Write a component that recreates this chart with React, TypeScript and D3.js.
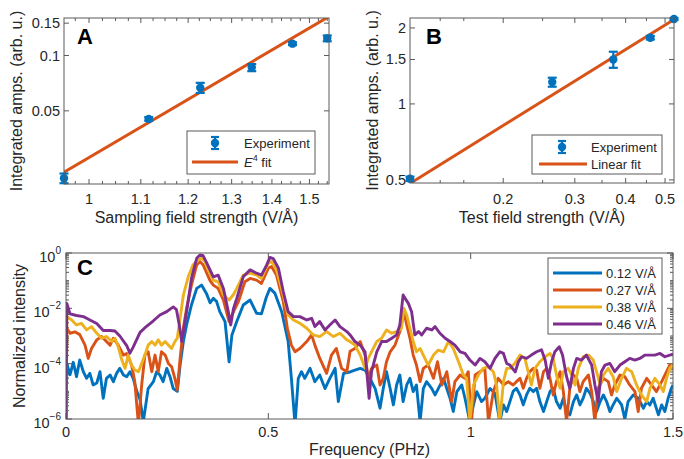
import React from "react";
import * as d3 from "d3";

// ---------- Panel A data ----------
const aField = [0.955, 1.116, 1.227, 1.349, 1.454, 1.55];
const aAmp = [0.0215, 0.0452, 0.0668, 0.086, 0.116, 0.124];
const aErr = [0.0013, 0.001, 0.0042, 0.0038, 0.002, 0.0045];
const aFitX = [0.955, 1.555];
const aFitY = [0.0232, 0.163];
const aXTicks = [1, 1.1, 1.2, 1.3, 1.4, 1.5];
const aYTicks = [0.05, 0.1, 0.15];

// ---------- Panel B data ----------
const bField = [0.118, 0.264, 0.373, 0.46, 0.526];
const bAmp = [0.505, 1.22, 1.5, 1.83, 2.17];
const bErr = [0.01, 0.05, 0.11, 0.03, 0.02];
const bFitX = [0.118, 0.526];
const bFitY = [0.484, 2.16];
const bXTicks = [0.2, 0.3, 0.4, 0.5];
const bXMinor = [0.14, 0.16, 0.25, 0.35, 0.45];
const bYTicks = [0.5, 1, 1.5, 2];

// ---------- Panel C data: [frequency (PHz), log10 normalized intensity] ----------
const seriesLabels = ["0.12 V/Å", "0.27 V/Å", "0.38 V/Å", "0.46 V/Å"];
const seriesColors = ["#0072BD", "#D95319", "#EDB120", "#7E2F8E"];

const specBlue: [number, number][] = [
  [0, -6.5], [0.002, -4.0], [0.01, -4.4], [0.018, -3.95], [0.026, -4.47], [0.034, -3.87], [0.043, -4.3],
  [0.051, -4.53], [0.059, -4.35], [0.067, -4.77], [0.076, -4.7], [0.084, -4.29], [0.092, -5.25], [0.1, -4.53],
  [0.109, -4.41], [0.117, -4.65], [0.125, -4.35], [0.133, -4.17], [0.142, -4.41], [0.15, -4.47], [0.158, -4.29],
  [0.166, -4.53], [0.175, -5.0], [0.183, -5.3], [0.191, -6.1], [0.198, -5.4], [0.203, -4.9], [0.216, -4.65],
  [0.224, -4.29], [0.232, -4.41], [0.24, -4.65], [0.249, -4.17], [0.257, -4.47], [0.265, -4.9], [0.275, -5.0],
  [0.282, -4.05], [0.29, -3.2], [0.298, -2.6], [0.31, -1.88], [0.323, -1.28], [0.335, -1.16], [0.347, -1.46],
  [0.356, -1.8], [0.364, -1.64], [0.372, -1.75], [0.38, -2.12], [0.393, -2.48], [0.403, -3.93], [0.41, -2.96],
  [0.422, -2.48], [0.438, -1.88], [0.455, -1.7], [0.471, -2.18], [0.483, -2.2], [0.495, -1.6], [0.504, -1.28],
  [0.516, -1.45], [0.533, -2.12], [0.549, -3.2], [0.557, -4.53], [0.566, -6.2], [0.574, -4.53], [0.582, -4.29],
  [0.59, -4.53], [0.603, -4.17], [0.615, -4.65], [0.627, -4.41], [0.64, -4.9], [0.652, -4.53], [0.665, -4.17],
  [0.673, -5.37], [0.686, -4.35], [0.702, -4.3], [0.714, -4.23], [0.727, -4.17], [0.739, -4.23], [0.751, -4.53],
  [0.764, -4.9], [0.776, -5.61], [0.784, -4.9], [0.792, -4.29], [0.801, -4.9], [0.809, -5.49], [0.817, -4.77],
  [0.825, -4.41], [0.833, -5.37], [0.842, -4.77], [0.85, -4.53], [0.858, -5.01], [0.866, -4.77], [0.875, -6.1],
  [0.883, -4.9], [0.891, -4.65], [0.904, -4.9], [0.912, -5.13], [0.92, -4.9], [0.933, -4.53], [0.941, -4.9],
  [0.949, -5.25], [0.957, -5.73], [0.966, -5.01], [0.978, -4.77], [0.986, -5.25], [0.998, -6.1], [1.007, -5.49],
  [1.015, -5.01], [1.027, -5.37], [1.035, -5.25], [1.048, -4.9], [1.06, -5.07], [1.072, -6.1], [1.081, -5.49],
  [1.089, -5.73], [1.097, -5.37], [1.105, -5.0], [1.113, -4.89], [1.122, -5.13], [1.13, -5.49], [1.138, -5.13],
  [1.146, -4.89], [1.155, -5.01], [1.163, -4.89], [1.171, -5.37], [1.18, -5.73], [1.188, -5.37], [1.196, -5.01],
  [1.204, -4.89], [1.212, -5.37], [1.221, -5.61], [1.229, -5.25], [1.237, -5.73], [1.245, -5.85], [1.254, -5.37],
  [1.262, -5.13], [1.27, -5.49], [1.278, -5.25], [1.286, -4.89], [1.295, -5.07], [1.303, -5.37], [1.311, -5.73],
  [1.32, -5.37], [1.328, -5.13], [1.336, -5.37], [1.344, -5.73], [1.352, -5.49], [1.361, -5.25], [1.373, -5.49],
  [1.381, -6.0], [1.389, -5.37], [1.402, -5.13], [1.414, -5.25], [1.427, -5.61], [1.435, -5.37], [1.443, -5.49],
  [1.451, -5.25], [1.464, -5.85], [1.472, -5.49], [1.48, -5.73], [1.488, -5.25], [1.496, -4.89], [1.5, -4.77],
];

const specOrange: [number, number][] = [
  [0, -6.5], [0.002, -2.72], [0.01, -2.9], [0.022, -2.85], [0.034, -2.95], [0.047, -3.33], [0.055, -3.81],
  [0.063, -3.45], [0.076, -3.14], [0.088, -3.02], [0.1, -3.2], [0.109, -3.33], [0.117, -3.08], [0.129, -3.33],
  [0.142, -3.69], [0.15, -3.63], [0.162, -4.05], [0.17, -4.65], [0.179, -6.2], [0.187, -4.77], [0.195, -3.69],
  [0.203, -3.57], [0.212, -4.29], [0.22, -3.69], [0.228, -4.29], [0.236, -3.57], [0.245, -3.69], [0.253, -3.99],
  [0.261, -4.11], [0.269, -4.53], [0.275, -4.95], [0.282, -3.81], [0.29, -2.72], [0.298, -2.0], [0.31, -1.16],
  [0.323, -0.43], [0.331, -0.31], [0.339, -0.43], [0.347, -0.7], [0.356, -1.0], [0.364, -1.16], [0.376, -1.28],
  [0.389, -1.7], [0.403, -2.48], [0.414, -2.12], [0.426, -1.76], [0.442, -1.04], [0.455, -0.92], [0.471, -0.98],
  [0.483, -1.1], [0.5, -0.55], [0.508, -0.49], [0.52, -0.8], [0.537, -1.76], [0.547, -2.72], [0.557, -3.33],
  [0.566, -3.57], [0.578, -3.45], [0.595, -3.2], [0.607, -2.96], [0.615, -3.33], [0.627, -3.8], [0.644, -4.35],
  [0.656, -3.69], [0.668, -3.45], [0.681, -4.17], [0.694, -4.29], [0.702, -3.55], [0.714, -3.45], [0.727, -3.2],
  [0.739, -3.69], [0.747, -4.53], [0.755, -4.17], [0.768, -4.05], [0.776, -4.77], [0.784, -4.53], [0.792, -3.93],
  [0.801, -3.57], [0.813, -3.33], [0.825, -2.84], [0.835, -2.12], [0.842, -2.6], [0.85, -3.08], [0.858, -3.69],
  [0.866, -4.05], [0.875, -4.65], [0.883, -4.17], [0.895, -4.05], [0.908, -4.53], [0.918, -3.93], [0.929, -4.77],
  [0.941, -4.29], [0.953, -5.37], [0.961, -4.65], [0.974, -4.41], [0.986, -4.53], [0.994, -4.29], [1.002, -6.1],
  [1.011, -4.41], [1.023, -4.29], [1.035, -4.17], [1.044, -6.1], [1.056, -5.01], [1.068, -4.53], [1.081, -4.77],
  [1.093, -4.65], [1.105, -4.77], [1.113, -4.65], [1.122, -4.53], [1.13, -4.89], [1.138, -4.53], [1.146, -4.29],
  [1.155, -4.17], [1.163, -4.23], [1.171, -4.89], [1.18, -4.29], [1.188, -4.17], [1.196, -4.53], [1.204, -5.13],
  [1.212, -4.65], [1.221, -4.29], [1.229, -5.01], [1.237, -6.1], [1.245, -4.89], [1.254, -4.41], [1.262, -4.53],
  [1.27, -5.01], [1.278, -4.65], [1.291, -4.41], [1.299, -5.01], [1.307, -6.1], [1.315, -4.89], [1.328, -4.53],
  [1.34, -4.65], [1.348, -5.13], [1.356, -4.77], [1.369, -4.41], [1.381, -4.47], [1.393, -4.77], [1.406, -5.01],
  [1.414, -5.73], [1.422, -4.89], [1.435, -4.53], [1.447, -4.77], [1.459, -5.01], [1.472, -4.65], [1.484, -4.29],
  [1.492, -4.05], [1.5, -4.17],
];

const specYellow: [number, number][] = [
  [0, -6.5], [0.002, -2.3], [0.014, -2.42], [0.026, -2.6], [0.038, -2.54], [0.051, -2.78], [0.063, -2.66],
  [0.076, -2.9], [0.088, -3.08], [0.1, -3.02], [0.113, -3.2], [0.121, -3.08], [0.129, -3.39], [0.138, -3.87],
  [0.146, -4.17], [0.154, -3.69], [0.162, -4.05], [0.17, -4.23], [0.179, -4.29], [0.187, -3.99], [0.195, -3.69],
  [0.203, -3.33], [0.212, -3.2], [0.22, -3.33], [0.228, -3.14], [0.236, -3.33], [0.245, -3.2], [0.253, -3.33],
  [0.261, -3.45], [0.269, -3.2], [0.275, -3.08], [0.282, -2.36], [0.29, -1.52], [0.302, -0.86], [0.314, -0.43],
  [0.327, -0.25], [0.335, -0.19], [0.343, -0.3], [0.351, -0.61], [0.364, -0.98], [0.376, -1.04], [0.389, -1.52],
  [0.403, -1.7], [0.414, -1.5], [0.422, -1.28], [0.438, -0.8], [0.455, -0.73], [0.471, -0.8], [0.483, -0.92],
  [0.5, -0.37], [0.508, -0.31], [0.52, -0.61], [0.537, -1.52], [0.549, -2.24], [0.562, -2.42], [0.578, -2.54],
  [0.595, -2.72], [0.611, -2.96], [0.627, -3.02], [0.644, -2.84], [0.661, -3.02], [0.677, -2.9], [0.694, -3.14],
  [0.702, -3.2], [0.714, -3.33], [0.727, -3.69], [0.739, -4.17], [0.747, -3.81], [0.755, -3.57], [0.768, -3.2],
  [0.78, -3.08], [0.792, -2.78], [0.805, -2.9], [0.817, -2.84], [0.829, -2.72], [0.835, -2.0], [0.842, -2.24],
  [0.85, -2.72], [0.858, -3.2], [0.866, -3.57], [0.875, -3.45], [0.883, -3.69], [0.895, -4.05], [0.908, -3.69],
  [0.92, -3.51], [0.933, -3.57], [0.945, -3.2], [0.957, -3.45], [0.97, -3.93], [0.982, -4.41], [0.99, -4.53],
  [0.998, -6.1], [1.007, -4.77], [1.019, -4.41], [1.031, -4.17], [1.044, -4.11], [1.056, -4.29], [1.064, -4.77],
  [1.072, -6.1], [1.081, -4.65], [1.089, -4.17], [1.097, -4.17], [1.109, -3.99], [1.122, -3.69], [1.134, -3.81],
  [1.142, -4.29], [1.15, -4.77], [1.159, -4.17], [1.171, -3.93], [1.184, -3.75], [1.196, -3.63], [1.204, -3.81],
  [1.212, -4.41], [1.221, -4.89], [1.229, -4.29], [1.241, -4.17], [1.25, -4.41], [1.258, -4.77], [1.266, -4.17],
  [1.278, -3.75], [1.291, -3.69], [1.303, -3.87], [1.311, -4.29], [1.32, -4.77], [1.328, -4.41], [1.34, -4.17],
  [1.352, -4.47], [1.361, -5.01], [1.373, -4.53], [1.385, -4.17], [1.398, -4.29], [1.41, -4.77], [1.422, -5.13],
  [1.435, -5.37], [1.443, -4.89], [1.455, -4.53], [1.468, -4.77], [1.476, -5.01], [1.484, -4.53], [1.492, -4.17],
  [1.5, -4.05],
];

const specPurple: [number, number][] = [
  [0, -6.5], [0.002, -1.82], [0.01, -2.2], [0.026, -2.26], [0.043, -2.3], [0.051, -2.36], [0.059, -2.42],
  [0.076, -2.55], [0.092, -2.8], [0.109, -2.8], [0.121, -2.82], [0.133, -3.0], [0.15, -3.35], [0.158, -3.62],
  [0.166, -3.4], [0.183, -2.87], [0.199, -2.65], [0.216, -2.45], [0.232, -2.24], [0.249, -2.12], [0.265, -1.95],
  [0.273, -2.05], [0.28, -2.6], [0.286, -3.2], [0.298, -2.12], [0.31, -0.92], [0.323, -0.19], [0.331, -0.07],
  [0.339, -0.1], [0.348, -0.37], [0.364, -0.86], [0.376, -0.8], [0.389, -1.28], [0.401, -2.12], [0.407, -2.6],
  [0.414, -2.0], [0.422, -1.64], [0.438, -0.86], [0.455, -0.61], [0.471, -0.73], [0.483, -0.8], [0.496, -0.43],
  [0.504, -0.16], [0.512, -0.2], [0.525, -0.55], [0.537, -1.4], [0.549, -2.12], [0.562, -2.3], [0.578, -2.3],
  [0.595, -2.42], [0.607, -2.36], [0.615, -2.66], [0.627, -2.48], [0.64, -2.78], [0.652, -2.6], [0.665, -2.42],
  [0.677, -2.66], [0.694, -2.84], [0.702, -2.96], [0.714, -3.2], [0.727, -3.33], [0.739, -3.57], [0.749, -5.25],
  [0.755, -4.29], [0.768, -3.57], [0.78, -3.2], [0.792, -3.2], [0.805, -3.08], [0.817, -2.96], [0.825, -2.6],
  [0.833, -1.52], [0.838, -1.64], [0.846, -1.82], [0.854, -2.12], [0.862, -2.96], [0.871, -2.84], [0.879, -2.96],
  [0.891, -2.72], [0.904, -2.78], [0.912, -2.66], [0.924, -2.9], [0.937, -3.08], [0.949, -3.2], [0.961, -3.33],
  [0.974, -3.57], [0.986, -3.63], [0.998, -3.87], [1.011, -4.05], [1.023, -3.81], [1.035, -3.93], [1.048, -4.17],
  [1.06, -3.81], [1.072, -3.57], [1.081, -3.63], [1.089, -3.99], [1.097, -4.05], [1.11, -4.3], [1.118, -3.93],
  [1.126, -3.75], [1.138, -3.81], [1.15, -3.69], [1.163, -3.57], [1.175, -3.5], [1.184, -3.87], [1.192, -4.53],
  [1.2, -3.93], [1.208, -3.57], [1.219, -3.39], [1.227, -3.69], [1.237, -4.47], [1.245, -4.89], [1.254, -4.17],
  [1.262, -3.81], [1.274, -3.87], [1.286, -3.69], [1.299, -4.05], [1.307, -4.77], [1.315, -5.37], [1.323, -4.29],
  [1.332, -4.05], [1.344, -3.99], [1.356, -4.29], [1.369, -4.05], [1.381, -3.93], [1.393, -3.81], [1.406, -3.87],
  [1.418, -3.81], [1.431, -3.69], [1.443, -3.69], [1.455, -3.69], [1.468, -3.63], [1.48, -3.75], [1.492, -3.69],
  [1.5, -3.66],
];

const spectra = [specBlue, specOrange, specYellow, specPurple];
const cXTicks = [0, 0.5, 1, 1.5];
const cYTickExps = [0, -2, -4, -6];

const FONT = "'Liberation Sans', Arial, Helvetica, sans-serif";
const AXC = "#262626";
const FRAME = "#5a5a5a";
const BLUE = "#0072BD";
const ORANGE = "#D95319";

type Box = { l: number; r: number; t: number; b: number };

function Frame({ box }: { box: Box }) {
  return (
    <rect x={box.l} y={box.t} width={box.r - box.l} height={box.b - box.t}
      fill="none" stroke={FRAME} strokeWidth={1} />
  );
}

function XTicks({ box, vals, sx, len }: { box: Box; vals: number[]; sx: (v: number) => number; len: number }) {
  return (
    <g stroke={FRAME} strokeWidth={1}>
      {vals.map((v, i) => {
        const x = sx(v);
        return (
          <g key={i}>
            <line x1={x} x2={x} y1={box.b} y2={box.b - len} />
            <line x1={x} x2={x} y1={box.t} y2={box.t + len} />
          </g>
        );
      })}
    </g>
  );
}

function YTicks({ box, vals, sy, len }: { box: Box; vals: number[]; sy: (v: number) => number; len: number }) {
  return (
    <g stroke={FRAME} strokeWidth={1}>
      {vals.map((v, i) => {
        const y = sy(v);
        return (
          <g key={i}>
            <line x1={box.l} x2={box.l + len} y1={y} y2={y} />
            <line x1={box.r} x2={box.r - len} y1={y} y2={y} />
          </g>
        );
      })}
    </g>
  );
}

function ErrPoint({ x, y, y0, y1, cap = 4.5 }: { x: number; y: number; y0: number; y1: number; cap?: number }) {
  return (
    <g stroke={BLUE} strokeWidth={2.2}>
      <line x1={x} x2={x} y1={y0} y2={y1} />
      <line x1={x - cap} x2={x + cap} y1={y0} y2={y0} />
      <line x1={x - cap} x2={x + cap} y1={y1} y2={y1} />
      <circle cx={x} cy={y} r={4.2} fill={BLUE} stroke="none" />
    </g>
  );
}

function PanelA() {
  const box: Box = { l: 64, r: 329, t: 18, b: 184 };
  const x = d3.scaleLog().domain([0.955, 1.555]).range([box.l, box.r]);
  const y = d3.scaleLog().domain([0.02, 0.16]).range([box.b, box.t]);
  const minor = d3.range(0.975, 1.555, 0.025).filter((v) => aXTicks.every((t) => Math.abs(t - v) > 1e-6));
  const fit = d3.line<number>().x((_, i) => x(aFitX[i])).y((d) => y(d))(aFitY) || "";
  return (
    <g>
      <defs>
        <clipPath id="clipA"><rect x={box.l} y={box.t} width={box.r - box.l} height={box.b - box.t} /></clipPath>
      </defs>
      <XTicks box={box} vals={aXTicks} sx={x} len={5} />
      <XTicks box={box} vals={minor} sx={x} len={3} />
      <YTicks box={box} vals={aYTicks} sy={y} len={5} />
      {aXTicks.map((v) => (
        <text key={v} x={x(v)} y={204} textAnchor="middle" fontSize={14.5} fill={AXC}>{d3.format("~g")(v)}</text>
      ))}
      {aYTicks.map((v) => (
        <text key={v} x={box.l - 4} y={y(v) + 5} textAnchor="end" fontSize={14.5} fill={AXC}>{d3.format("~g")(v)}</text>
      ))}
      <path d={fit} fill="none" stroke={ORANGE} strokeWidth={3} clipPath="url(#clipA)" />
      {aField.map((f, i) => (
        <ErrPoint key={i} x={x(f)} y={y(aAmp[i])} y0={y(aAmp[i] - aErr[i])} y1={y(aAmp[i] + aErr[i])} />
      ))}
      <Frame box={box} />
      <text x={77} y={44} fontSize={22} fontWeight="bold" fill="#000">A</text>
      <text x={(box.l + box.r) / 2} y={223} textAnchor="middle" fontSize={16} fill={AXC}>Sampling field strength (V/Å)</text>
      <text transform={`translate(22,${(box.t + box.b) / 2}) rotate(-90)`} textAnchor="middle" fontSize={16} fill={AXC}>Integrated amps. (arb. u.)</text>
      {/* legend */}
      <rect x={187} y={131} width={128} height={43} fill="#fff" stroke={FRAME} strokeWidth={1} />
      <ErrPoint x={215} y={143} y0={137} y1={149} cap={4} />
      <text x={244} y={148} fontSize={13} fill={AXC}>Experiment</text>
      <line x1={192} x2={238} y1={162} y2={162} stroke={ORANGE} strokeWidth={3} />
      <text x={244} y={167} fontSize={13} fill={AXC}>
        <tspan fontStyle="italic">E</tspan>
        <tspan fontSize={9} dy={-6}>4</tspan>
        <tspan dy={6}> fit</tspan>
      </text>
    </g>
  );
}

function PanelB() {
  const box: Box = { l: 410, r: 674, t: 18, b: 183 };
  const x = d3.scaleLog().domain([0.118, 0.526]).range([box.l, box.r]);
  const y = d3.scaleLog().domain([0.486, 2.19]).range([box.b, box.t]);
  const fit = d3.line<number>().x((_, i) => x(bFitX[i])).y((d) => y(d))(bFitY) || "";
  return (
    <g>
      <defs>
        <clipPath id="clipB"><rect x={box.l} y={box.t} width={box.r - box.l} height={box.b - box.t} /></clipPath>
      </defs>
      <XTicks box={box} vals={bXTicks} sx={x} len={5} />
      <XTicks box={box} vals={bXMinor} sx={x} len={3} />
      <YTicks box={box} vals={bYTicks} sy={y} len={5} />
      {bXTicks.map((v) => (
        <text key={v} x={x(v)} y={204} textAnchor="middle" fontSize={14.5} fill={AXC}>{d3.format("~g")(v)}</text>
      ))}
      {bYTicks.map((v) => (
        <text key={v} x={box.l - 4} y={y(v) + 5} textAnchor="end" fontSize={14.5} fill={AXC}>{d3.format("~g")(v)}</text>
      ))}
      <path d={fit} fill="none" stroke={ORANGE} strokeWidth={3} clipPath="url(#clipB)" />
      {bField.map((f, i) => (
        <ErrPoint key={i} x={x(f)} y={y(bAmp[i])} y0={y(bAmp[i] - bErr[i])} y1={y(bAmp[i] + bErr[i])} />
      ))}
      <Frame box={box} />
      <text x={426} y={44} fontSize={22} fontWeight="bold" fill="#000">B</text>
      <text x={(box.l + box.r) / 2} y={223} textAnchor="middle" fontSize={16} fill={AXC}>Test field strength (V/Å)</text>
      <text transform={`translate(378,${(box.t + box.b) / 2}) rotate(-90)`} textAnchor="middle" fontSize={16} fill={AXC}>Integrated amps. (arb. u.)</text>
      {/* legend */}
      <rect x={532} y={135} width={130} height={39} fill="#fff" stroke={FRAME} strokeWidth={1} />
      <ErrPoint x={562} y={147} y0={141} y1={153} cap={4} />
      <text x={591} y={152} fontSize={13} fill={AXC}>Experiment</text>
      <line x1={539} x2={587} y1={164} y2={164} stroke={ORANGE} strokeWidth={3} />
      <text x={591} y={169} fontSize={13} fill={AXC}>Linear fit</text>
    </g>
  );
}

function PanelC() {
  const box: Box = { l: 66, r: 673, t: 253, b: 419 };
  const x = d3.scaleLinear().domain([0, 1.5]).range([box.l, box.r]);
  const y = d3.scaleLog().domain([1e-6, 1]).range([box.b, box.t]);
  const line = d3.line<[number, number]>()
    .x((d) => x(d[0]))
    .y((d) => y(Math.pow(10, d[1])));
  const minors: number[] = [];
  for (let e = -6; e < 0; e++) {
    for (let k = 2; k <= 9; k++) minors.push(k * Math.pow(10, e));
    if (e % 2 !== 0) minors.push(Math.pow(10, e));
  }
  const legendY = [273, 290, 307, 324];
  return (
    <g>
      <defs>
        <clipPath id="clipC"><rect x={box.l} y={box.t} width={box.r - box.l} height={box.b - box.t} /></clipPath>
      </defs>
      <XTicks box={box} vals={cXTicks} sx={x} len={6} />
      <YTicks box={box} vals={cYTickExps.map((e) => Math.pow(10, e))} sy={y} len={6} />
      <YTicks box={box} vals={minors} sy={y} len={3} />
      {cXTicks.map((v) => (
        <text key={v} x={x(v)} y={437} textAnchor="middle" fontSize={14.5} fill={AXC}>{d3.format("~g")(v)}</text>
      ))}
      {cYTickExps.map((e) => (
        <text key={e} x={box.l - 5} y={y(Math.pow(10, e)) + 9} textAnchor="end" fontSize={14.5} fill={AXC}>
          <tspan>10</tspan>
          <tspan fontSize={10} dy={-8}>{e === 0 ? "0" : `\u2212${-e}`}</tspan>
        </text>
      ))}
      <g clipPath="url(#clipC)">
        {spectra.map((s, i) => (
          <path key={i} d={line(s) || ""} fill="none" stroke={seriesColors[i]} strokeWidth={2.9} strokeLinejoin="round" />
        ))}
      </g>
      <Frame box={box} />
      <text x={77} y={275} fontSize={22} fontWeight="bold" fill="#000">C</text>
      <text x={(box.l + box.r) / 2} y={455} textAnchor="middle" fontSize={16} fill={AXC}>Frequency (PHz)</text>
      <text transform={`translate(25,${(box.t + box.b) / 2}) rotate(-90)`} textAnchor="middle" fontSize={16} fill={AXC}>Normalized intensity</text>
      {/* legend */}
      <rect x={548} y={258} width={114} height={76} fill="#fff" stroke={FRAME} strokeWidth={1} />
      {seriesLabels.map((lab, i) => (
        <g key={lab}>
          <line x1={553} x2={602} y1={legendY[i]} y2={legendY[i]} stroke={seriesColors[i]} strokeWidth={3} />
          <text x={606} y={legendY[i] + 4.5} fontSize={13} fill={AXC}>{lab}</text>
        </g>
      ))}
    </g>
  );
}

export default function App() {
  return (
    <svg width={684} height={459} viewBox="0 0 684 459"
      style={{ position: "absolute", left: 0, top: 0, background: "#fff", fontFamily: FONT }}>
      <rect x={0} y={0} width={684} height={459} fill="#fff" />
      <PanelA />
      <PanelB />
      <PanelC />
    </svg>
  );
}
